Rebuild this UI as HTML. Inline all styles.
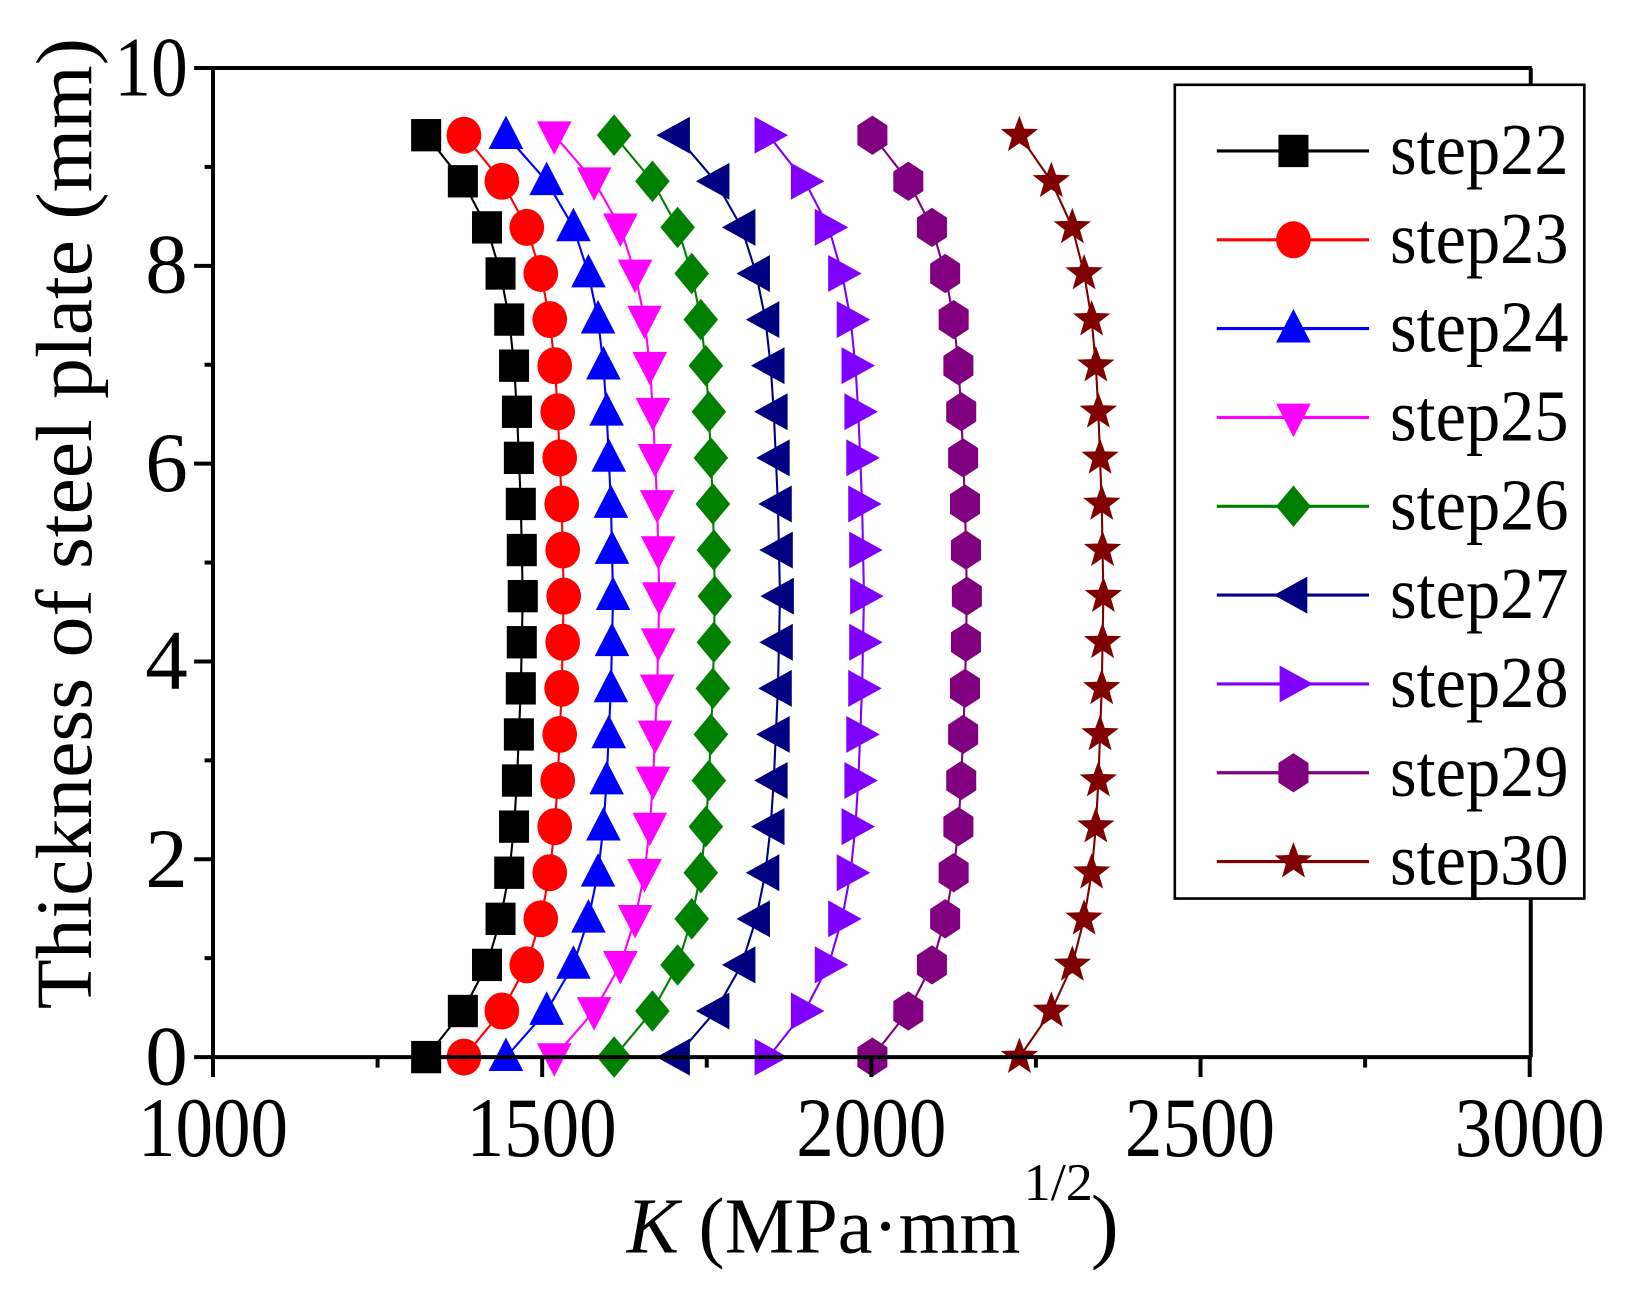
<!DOCTYPE html>
<html><head><meta charset="utf-8"><style>
html,body{margin:0;padding:0;background:#fff;}
svg{display:block;}
text{font-family:"Liberation Serif",serif;fill:#000;}
</style></head><body>
<svg id="s" width="1647" height="1295" viewBox="0 0 1647 1295" xmlns="http://www.w3.org/2000/svg">
<rect width="1647" height="1295" fill="#fff"/>
<g transform="translate(-1.2,0.8) scale(1.05)">
<g id="plot"></g>
<line x1="204" y1="1006" x2="1460" y2="1006" stroke="#000" stroke-width="3.8"/>
<line x1="204" y1="64" x2="204" y2="1006" stroke="#000" stroke-width="3.8"/>
<line x1="204" y1="64" x2="1460" y2="64" stroke="#000" stroke-width="3.8"/>
<line x1="1459" y1="64" x2="1459" y2="1006" stroke="#000" stroke-width="3.8"/>
<g id="ticks" stroke="#000" stroke-width="3.8"></g>
<g font-size="81" text-anchor="end">
<text x="180" y="1032">0</text><text x="180" y="844">2</text><text x="180" y="655">4</text>
<text x="180" y="467">6</text><text x="180" y="278">8</text><text x="180" y="90" textLength="70" lengthAdjust="spacingAndGlyphs">10</text>
</g>
<g font-size="81" text-anchor="middle">
<text x="204" y="1100" textLength="143" lengthAdjust="spacingAndGlyphs">1000</text>
<text x="517" y="1100" textLength="143" lengthAdjust="spacingAndGlyphs">1500</text>
<text x="831" y="1100" textLength="143" lengthAdjust="spacingAndGlyphs">2000</text>
<text x="1144" y="1100" textLength="143" lengthAdjust="spacingAndGlyphs">2500</text>
<text x="1458" y="1100" textLength="143" lengthAdjust="spacingAndGlyphs">3000</text>
</g>
<text x="598" y="1192" font-size="76" textLength="375" lengthAdjust="spacingAndGlyphs"><tspan font-style="italic">K</tspan> (MPa·mm</text>
<text x="976" y="1142" font-size="50" textLength="66" lengthAdjust="spacingAndGlyphs">1/2</text>
<text x="1040" y="1192" font-size="80">)</text>
<text transform="translate(88,498) rotate(-90)" font-size="76" text-anchor="middle" textLength="925" lengthAdjust="spacingAndGlyphs">Thickness of steel plate (mm)</text>
<rect x="1120" y="80" width="390" height="775" fill="#fff" stroke="#000" stroke-width="2.5"/>
<g id="leg"></g>
</g>
</svg>
<script>
const NS="http://www.w3.org/2000/svg";
function el(p,t,a){const e=document.createElementNS(NS,t);for(const k in a)e.setAttribute(k,a[k]);p.appendChild(e);return e;}
const tk=document.getElementById('ticks');
for(let i=0;i<=8;i++){const x=204+i*156.75;el(tk,'line',{x1:x,y1:1006,x2:x,y2:i%2?1016:1025});}
for(let i=0;i<=10;i++){const y=1006-i*94.2;el(tk,'line',{x1:204,y1:y,x2:i%2?196:186,y2:y});}
const f=[0,0.38,0.63,0.77,0.86,0.91,0.94,0.96,0.98,0.99,1,0.99,0.98,0.96,0.94,0.91,0.86,0.77,0.63,0.38,0];
const S=[[407,499,'#000','sq','step22'],[443,538,'#f00','ci','step23'],[483,585,'#00f','tu','step24'],[529,629,'#f0f','td','step25'],[586,682,'#008000','di','step26'],[645,744,'#000080','tl','step27'],[733,824,'#8000ff','tr','step28'],[832,922,'#800080','hx','step29'],[972,1052,'#800000','st','step30']];
const K=1.1;
function mk(g,t,x,y,c){let pts;
 if(t=='sq')return el(g,'rect',{x:x-13*K,y:y-14*K,width:26*K,height:28*K,fill:c});
 if(t=='ci')return el(g,'ellipse',{cx:x,cy:y,rx:15*K,ry:16*K,fill:c});
 if(t=='tu')pts=[[0,-17],[15,12],[-15,12]];
 if(t=='td')pts=[[0,17],[15,-12],[-15,-12]];
 if(t=='tl')pts=[[-17,0],[12,-16],[12,16]];
 if(t=='tr')pts=[[17,0],[-12,-16],[-12,16]];
 if(t=='di')pts=[[0,-18],[15,0],[0,18],[-15,0]];
 if(t=='hx'){pts=[];for(let k=0;k<6;k++){const a=Math.PI/3*k;pts.push([15*Math.sin(a),-17*Math.cos(a)]);}}
 if(t=='st'){pts=[];for(let k=0;k<10;k++){const a=Math.PI/5*k,rr=k%2?7:17;pts.push([rr*Math.sin(a),-rr*Math.cos(a)]);}}
 return el(g,'polygon',{points:pts.map(p=>(x+p[0]*K)+','+(y+p[1]*K)).join(' '),fill:c});}
const pg=document.getElementById('plot'),lg=document.getElementById('leg');
S.forEach((s,j)=>{const P=f.map((v,i)=>[s[0]+(s[1]-s[0])*v,1006-i*43.9]);
 el(pg,'polyline',{points:P.map(p=>p.join(',')).join(' '),fill:'none',stroke:s[2],'stroke-width':2});
 P.forEach(p=>mk(pg,s[3],p[0],p[1],s[2]));
 const y=143+j*84.6;
 el(lg,'line',{x1:1160,y1:y,x2:1305,y2:y,stroke:s[2],'stroke-width':3});
 mk(lg,s[3],1233,y,s[2]);
 const t=el(lg,'text',{x:1325,y:y+22,'font-size':70,textLength:170,lengthAdjust:'spacingAndGlyphs'});t.textContent=s[4];});
</script>
</body></html>
